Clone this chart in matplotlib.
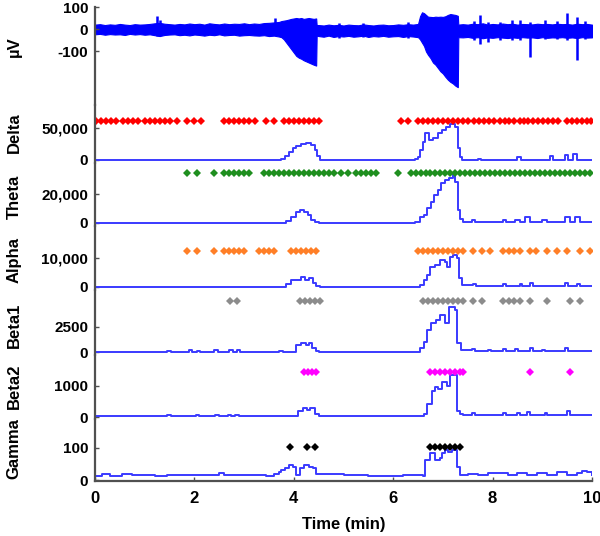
import matplotlib
matplotlib.use("Agg")
import matplotlib.pyplot as plt

plt.rcParams['font.family'] = ['Liberation Sans', 'DejaVu Sans']
plt.rcParams['font.weight'] = 'bold'

# ---------------- data ----------------
# raw EEG envelope (µV)
eeg_t = [0.0, 0.1, 0.2, 0.3, 0.4, 0.5, 0.6, 0.7, 0.8, 0.9, 1.0, 1.1, 1.2, 1.3, 1.4, 1.5, 1.6, 1.7, 1.8, 1.9,
         2.0, 2.1, 2.2, 2.3, 2.4, 2.5, 2.6, 2.7, 2.8, 2.9, 3.0, 3.1, 3.2, 3.3, 3.4, 3.5, 3.6, 3.7,
         3.75, 3.8, 3.85, 3.9, 3.95, 4.0, 4.05, 4.1, 4.15, 4.2, 4.25, 4.3, 4.35, 4.4, 4.45, 4.46,
         4.5, 4.6, 4.7, 4.8, 4.9, 5.0, 5.1, 5.2, 5.3, 5.4, 5.5, 5.6, 5.7, 5.8, 5.9, 6.0, 6.1, 6.2, 6.3, 6.4, 6.5,
         6.54, 6.58, 6.62, 6.66, 6.7, 6.75, 6.8, 6.85, 6.9, 6.95, 7.0, 7.05, 7.1, 7.15, 7.2, 7.25, 7.3, 7.31,
         7.4, 7.5, 7.6, 7.7, 7.8, 7.9, 8.0, 8.1, 8.2, 8.3, 8.4, 8.5, 8.6, 8.7, 8.8, 8.9, 9.0, 9.1, 9.2,
         9.3, 9.4, 9.5, 9.6, 9.7, 9.8, 9.9, 10.0]
eeg_hi = [22, 24, 20, 23, 21, 25, 22, 20, 24, 22, 23, 25, 28, 30, 26, 24, 22, 25, 23, 27,
          24, 26, 22, 28, 25, 23, 27, 24, 26, 25, 28, 24, 27, 25, 29, 30, 32, 34,
          38, 40, 42, 45, 48, 50, 52, 50, 52, 48, 50, 52, 50, 48, 50, 20,
          20, 18, 22, 19, 21, 18, 22, 20, 19, 23, 20, 18, 21, 22, 19, 20, 23, 21, 24, 22, 25,
          60, 78, 74, 66, 58, 57, 56, 58, 57, 58, 57, 60, 66, 70, 68, 66, 62, 22,
          24, 22, 26, 24, 28, 22, 25, 23, 27, 24, 26, 22, 25, 24, 23, 26, 24, 25, 23,
          26, 24, 25, 22, 26, 24, 25, 22]
eeg_lo = [-22, -20, -24, -21, -23, -22, -25, -20, -23, -21, -24, -22, -26, -30, -25, -23, -22, -26, -24, -27,
          -23, -25, -28, -24, -26, -22, -27, -25, -24, -28, -26, -25, -27, -28, -26, -30, -28, -32,
          -35, -45, -60, -75, -90, -105, -120, -128, -133, -140, -145, -150, -155, -160, -164, -28,
          -30, -33, -28, -34, -30, -32, -29, -33, -31, -28, -34, -30, -32, -29, -33, -31, -30, -34, -30, -32, -35,
          -45, -60, -75, -100, -115, -130, -150, -160, -175, -190, -200, -215, -228, -238, -245, -255, -262, -35,
          -36, -34, -38, -35, -40, -36, -38, -35, -37, -39, -36, -38, -35, -37, -36, -39, -35, -38, -36,
          -37, -35, -38, -36, -39, -35, -37, -36]
spike_t = [1.25, 1.3, 3.62, 4.9, 5.4, 6.3, 7.62, 7.75, 7.9, 8.15, 8.4, 8.55, 8.75, 9.05, 9.3, 9.5, 9.7, 9.85]
spike_lo = [-30, -25, -25, -40, -35, -38, -50, -64, -55, -50, -50, -48, -127, -45, -42, -50, -137, -45]
spike_hi = [60, 45, 50, 28, 30, 32, 40, 64, 35, 32, 45, 45, 35, 45, 40, 73, 55, 40]

# band power step traces
delta_t = [0.0, 3.75, 3.82, 3.9, 3.98, 4.05, 4.15, 4.25, 4.35, 4.42, 4.47, 4.52,
           6.44, 6.5, 6.54, 6.6, 6.64, 6.72, 6.8, 6.9, 6.98, 7.06, 7.14, 7.24, 7.3, 7.34, 7.38,
           7.7, 7.76, 8.5, 8.58, 9.15, 9.22, 9.45, 9.52, 9.62, 9.7, 10.0]
delta_v = [0, 2000, 6000, 12000, 18000, 22000, 25000, 27000, 23000, 15000, 6000, 0,
           1500, 5000, 15600, 28000, 42000, 31000, 34000, 42000, 47000, 52000, 56000, 52000, 19000, 4000, 0,
           1500, 0, 4000, 0, 6000, 0, 7500, 0, 9000, 0, 0]

theta_t = [0.0, 3.85, 3.95, 4.05, 4.12, 4.2, 4.28, 4.35, 4.42, 4.5,
           6.44, 6.54, 6.62, 6.68, 6.76, 6.82, 6.9, 6.96, 7.04, 7.12, 7.2, 7.24, 7.3, 7.35, 7.4,
           7.58, 7.64, 8.2, 8.26, 8.45, 8.55, 8.65, 8.75, 9.0, 9.1, 9.45, 9.55, 9.65, 9.75, 10.0]
theta_v = [0, 1500, 4000, 7500, 9000, 7600, 5500, 2000, 500, 0,
           700, 4100, 5500, 10300, 14500, 19300, 22800, 27600, 29700, 31000, 34000, 28300, 9000, 2500, 700,
           1800, 700, 1800, 700, 2000, 700, 4000, 700, 2000, 700, 4000, 700, 4000, 700, 700]

alpha_t = [0.0, 3.85, 3.95, 4.05, 4.15, 4.22, 4.3, 4.38, 4.45, 4.52,
           6.54, 6.62, 6.68, 6.74, 6.84, 6.94, 7.04, 7.08, 7.14, 7.2, 7.28, 7.32, 7.38,
           7.6, 7.66, 8.2, 8.26, 8.55, 8.6, 8.75, 8.82, 9.45, 9.52, 9.7, 9.76, 10.0]
alpha_v = [0, 1000, 2400, 2400, 3450, 2400, 3100, 1500, 500, 0,
           700, 2400, 4100, 6900, 7600, 9300, 8600, 6900, 10300, 11000, 10000, 3100, 700,
           1200, 400, 1000, 400, 1000, 400, 1400, 400, 1400, 400, 1000, 400, 400]

beta1_t = [0.0, 1.45, 1.52, 1.9, 1.96, 2.05, 2.12, 2.4, 2.48, 2.7, 2.78, 2.85, 2.92, 3.7, 3.78,
           4.05, 4.14, 4.24, 4.3, 4.36, 4.44, 4.5,
           6.54, 6.62, 6.68, 6.76, 6.86, 6.94, 7.04, 7.12, 7.24, 7.28, 7.36,
           7.58, 7.64, 7.9, 7.96, 8.2, 8.26, 8.45, 8.52, 8.75, 8.82, 9.0, 9.06, 9.45, 9.52, 10.0]
beta1_v = [0, 150, 0, 200, 0, 150, 0, 200, 0, 200, 0, 200, 0, 150, 0,
           700, 900, 700, 900, 400, 150, 0,
           400, 1000, 2200, 2900, 3200, 3700, 2900, 4500, 4200, 900, 200,
           300, 100, 250, 100, 300, 100, 300, 100, 400, 100, 250, 100, 400, 100, 100]

beta2_t = [0.0, 1.45, 1.52, 2.03, 2.1, 2.42, 2.5, 2.68, 2.74, 2.82, 2.9,
           4.08, 4.18, 4.26, 4.33, 4.42, 4.5,
           6.62, 6.68, 6.78, 6.84, 6.9, 6.98, 7.08, 7.14, 7.28, 7.34, 7.4,
           7.58, 7.64, 8.2, 8.26, 8.5, 8.56, 8.7, 8.76, 9.05, 9.1, 9.5, 9.56, 10.0]
beta2_v = [30, 80, 30, 80, 30, 80, 30, 80, 30, 80, 30,
           190, 290, 220, 290, 100, 30,
           100, 420, 840, 940, 900, 1100, 1000, 1330, 190, 100, 60,
           130, 60, 130, 60, 130, 60, 160, 60, 130, 60, 190, 60, 60]

gamma_t = [0.0, 0.15, 0.3, 0.55, 0.75, 1.2, 1.45, 2.05, 2.5, 2.6, 3.45, 3.6, 3.7, 3.75, 3.82, 3.9, 3.98,
           4.05, 4.12, 4.2, 4.3, 4.38, 4.45, 5.0, 5.5, 6.2, 6.6,
           6.64, 6.74, 6.84, 6.94, 6.98, 7.04, 7.1, 7.18, 7.28, 7.34,
           7.5, 7.7, 7.9, 8.3, 8.5, 8.7, 8.9, 9.1, 9.3, 9.5, 9.7, 9.8, 9.9, 10.0]
gamma_v = [13, 19, 13, 19, 16, 13, 16, 16, 22, 15, 12, 19, 25, 30, 37, 47, 40,
           16, 37, 47, 40, 37, 19, 16, 13, 16, 13,
           62, 84, 62, 69, 84, 94, 88, 94, 40, 16,
           19, 16, 22, 16, 22, 16, 22, 16, 25, 16, 22, 28, 25, 16]

# significance markers (time in min)
delta_mk = [0.02, 0.12, 0.22, 0.32, 0.42, 0.56, 0.66, 0.76, 0.86, 1.0, 1.1, 1.2, 1.3, 1.4, 1.5, 1.64,
            1.86, 2.0, 2.14, 2.6, 2.7, 2.8, 2.9, 3.0, 3.1, 3.22, 3.45, 3.6,
            3.8, 3.9, 4.0, 4.1, 4.2, 4.3, 4.4, 4.5, 6.15, 6.3,
            6.5, 6.6, 6.7, 6.8, 6.9, 7.0, 7.1, 7.2, 7.3, 7.4, 7.5,
            7.62, 7.72, 7.82, 7.92, 8.02, 8.14, 8.24, 8.34, 8.44,
            8.56, 8.64, 8.72, 8.82, 8.92, 9.02, 9.12, 9.22, 9.32,
            9.5, 9.6, 9.7, 9.8, 9.9, 9.98]
theta_mk = [1.85, 2.05, 2.4, 2.6, 2.7, 2.8, 2.9, 3.0, 3.1,
            3.4, 3.5, 3.6, 3.7, 3.8, 3.9, 4.0, 4.1, 4.2, 4.3, 4.4, 4.5, 4.6, 4.7, 4.8,
            4.95, 5.1, 5.25, 5.35, 5.45, 5.55, 5.65, 6.1,
            6.35, 6.45, 6.55, 6.65, 6.75, 6.85, 6.95, 7.05, 7.15, 7.25, 7.35, 7.45, 7.55,
            7.65, 7.75, 7.85, 7.95, 8.05, 8.15, 8.25, 8.35, 8.45, 8.55, 8.65, 8.75, 8.85,
            8.95, 9.05, 9.15, 9.25, 9.35, 9.45, 9.55, 9.65, 9.75, 9.85, 9.95]
alpha_mk = [1.85, 2.05, 2.4, 2.6, 2.7, 2.8, 2.9, 3.0, 3.3, 3.4, 3.5, 3.6,
            3.95, 4.05, 4.15, 4.25, 4.35, 4.45,
            6.5, 6.6, 6.7, 6.8, 6.9, 7.0, 7.1, 7.2, 7.3, 7.4,
            7.6, 7.78, 7.95, 8.2, 8.32, 8.44, 8.55, 8.75, 8.87, 9.1, 9.3, 9.5, 9.75, 9.95]
beta1_mk = [2.72, 2.86, 4.12, 4.22, 4.32, 4.42, 4.52,
            6.6, 6.7, 6.8, 6.9, 7.0, 7.1, 7.2, 7.3, 7.4,
            7.6, 7.78, 8.2, 8.32, 8.44, 8.55, 8.75, 9.1, 9.55, 9.75]
beta2_mk = [4.2, 4.28, 4.36, 4.45, 6.75, 6.85, 6.95, 7.05, 7.15, 7.25, 7.35, 7.4, 8.75, 9.55]
gamma_mk = [3.92, 4.27, 4.43, 6.75, 6.85, 6.95, 7.05, 7.15, 7.25, 7.34]

band_names = ['Delta', 'Theta', 'Alpha', 'Beta1', 'Beta2', 'Gamma']
band_ticks = [[0, 50000], [0, 20000], [0, 10000], [0, 2500], [0, 1000], [0, 100]]
band_ticklabels = [['0', '50,000'], ['0', '20,000'], ['0', '10,000'], ['0', '2500'], ['0', '1000'], ['0', '100']]
marker_levels = [61000, 34500, 12400, 5100, 1420, 103]
marker_colors = ['#ff0000', '#1f8f1f', '#ff7f27', '#8c8c8c', '#ff00ff', '#000000']
eeg_ticks = [-100, 0, 100]
eeg_ticklabels = ['-100', '0', '100']
x_ticks = [0, 2, 4, 6, 8, 10]

# ---------------- layout ----------------
W, H = 600, 536
fig = plt.figure(figsize=(W / 100, H / 100), dpi=100)

left = 95 / W
width = 497 / W
bounds = [(7, 105), (105, 163), (163, 226), (226, 290), (290, 355), (355, 419), (419, 481)]
ylims = [(-343, 102), (-4690, 85900), (-2070, 41400), (-1034, 21000), (-300, 6200), (-60, 1968), (-3, 190)]

spine_col = '#505050'
line_col = '#3a3aff'


def make_ax(i):
    top, bot = bounds[i]
    ax = fig.add_axes([left, 1 - bot / H, width, (bot - top) / H])
    ax.set_xlim(0, 10)
    ax.set_ylim(*ylims[i])
    for s in ['top', 'right']:
        ax.spines[s].set_visible(False)
    ax.spines['left'].set_color(spine_col)
    ax.spines['left'].set_linewidth(1.6)
    ax.spines['bottom'].set_color(spine_col)
    ax.spines['bottom'].set_linewidth(1.6)
    ax.tick_params(axis='both', direction='in', length=3, width=1, color=spine_col,
                   labelsize=11, pad=5)
    ax.patch.set_alpha(0)
    return ax


# EEG
ax0 = make_ax(0)
ax0.fill_between(eeg_t, eeg_lo, eeg_hi, color='#0000ff', linewidth=0.8, edgecolor='#0000ff')
ax0.vlines(spike_t, spike_lo, spike_hi, color='#0000ff', linewidth=1.8)
ax0.set_yticks(eeg_ticks)
ax0.set_yticklabels(eeg_ticklabels)
ax0.spines['bottom'].set_visible(False)
ax0.set_xticks([])

band_t = [delta_t, theta_t, alpha_t, beta1_t, beta2_t, gamma_t]
band_v = [delta_v, theta_v, alpha_v, beta1_v, beta2_v, gamma_v]
band_mk = [delta_mk, theta_mk, alpha_mk, beta1_mk, beta2_mk, gamma_mk]

axes = []
for i in range(6):
    ax = make_ax(i + 1)
    ax.plot(band_t[i], band_v[i], drawstyle='steps-post', color=line_col, linewidth=1.4)
    ax.plot(band_mk[i], [marker_levels[i]] * len(band_mk[i]), linestyle='none', marker='D',
            markersize=3.9, color=marker_colors[i], markeredgewidth=0)
    ax.set_yticks(band_ticks[i])
    ax.set_yticklabels(band_ticklabels[i])
    if i < 5:
        ax.spines['bottom'].set_visible(False)
        ax.set_xticks([])
    else:
        ax.set_xticks(x_ticks)
        ax.set_xticklabels([str(v) for v in x_ticks], fontsize=12)
        ax.tick_params(axis='x', pad=7)
        ax.set_xlabel('Time (min)', fontsize=12, fontweight='bold', labelpad=8)
    axes.append(ax)

# panel labels
lab_fs = 12
lab_x = 14 / W
fig.text(lab_x, 1 - 47 / H, 'µV', rotation=90, ha='center', va='center', fontsize=lab_fs, fontweight='bold')
label_y = [133, 197, 260, 325, 386, 449]
for name, yy in zip(band_names, label_y):
    fig.text(lab_x, 1 - yy / H, name, rotation=90, ha='center', va='center',
             fontsize=lab_fs, fontweight='bold')

fig.savefig('out.png', dpi=100)
